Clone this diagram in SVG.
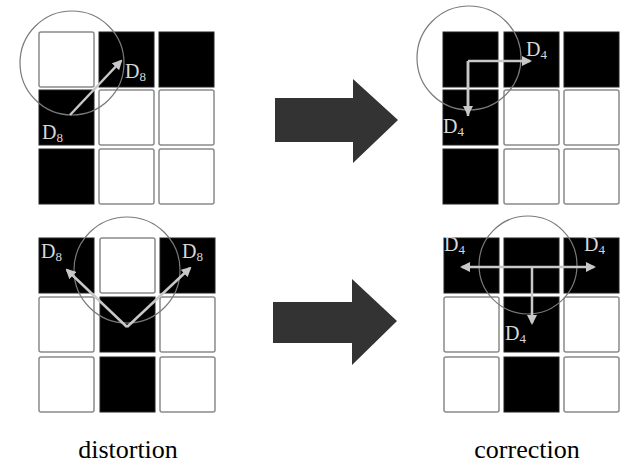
<svg xmlns="http://www.w3.org/2000/svg" width="624" height="463" viewBox="0 0 624 463">
<style>
.w{fill:#fff;stroke:#8a8a8a;stroke-width:1.5}
.b{fill:#000;stroke:#222;stroke-width:1}
.c{fill:none;stroke:#7a7a7a;stroke-width:1.2}
.a{fill:none;stroke:#c8c8c8;stroke-width:2.5;marker-end:url(#h)}
.l{fill:none;stroke:#c8c8c8;stroke-width:2.5}
.lbl{font-family:"Liberation Serif",serif;font-size:20px;fill:#d8d8d8}
.sub{font-size:13px}
.cap{font-family:"Liberation Serif",serif;font-size:26px;fill:#000;text-anchor:middle}
.big{fill:#333}
</style>
<defs>
<marker id="h" viewBox="0 0 10 10" refX="8" refY="5" markerWidth="4" markerHeight="4" orient="auto" markerUnits="strokeWidth">
<path d="M0,0 L10,5 L0,10 z" fill="#c8c8c8"/>
</marker>
</defs>
<rect width="624" height="463" fill="#fff"/>

<g id="grid-tl">
<rect class="w" x="39" y="32" width="55" height="55" rx="2"/>
<rect class="b" x="99" y="32" width="55" height="55"/>
<rect class="b" x="159" y="32" width="55" height="55"/>
<rect class="b" x="39" y="90" width="55" height="55"/>
<rect class="w" x="99" y="90" width="55" height="55" rx="2"/>
<rect class="w" x="159" y="90" width="55" height="55" rx="2"/>
<rect class="b" x="39" y="149" width="55" height="55"/>
<rect class="w" x="99" y="149" width="55" height="55" rx="2"/>
<rect class="w" x="159" y="149" width="55" height="55" rx="2"/>
<circle class="c" cx="72" cy="63" r="52"/>
<text class="lbl" x="125" y="78">D<tspan class="sub" dy="3">8</tspan></text>
<text class="lbl" x="42" y="139">D<tspan class="sub" dy="3">8</tspan></text>
</g>

<g id="grid-tr">
<rect class="b" x="443" y="32" width="55" height="55"/>
<rect class="b" x="504" y="32" width="55" height="55"/>
<rect class="b" x="564" y="32" width="55" height="55"/>
<rect class="b" x="443" y="90" width="55" height="55"/>
<rect class="w" x="504" y="90" width="55" height="55" rx="2"/>
<rect class="w" x="564" y="90" width="55" height="55" rx="2"/>
<rect class="b" x="443" y="149" width="55" height="55"/>
<rect class="w" x="504" y="149" width="55" height="55" rx="2"/>
<rect class="w" x="564" y="149" width="55" height="55" rx="2"/>
<circle class="c" cx="469" cy="58" r="52"/>
<text class="lbl" x="526" y="56">D<tspan class="sub" dy="3">4</tspan></text>
<text class="lbl" x="443" y="133">D<tspan class="sub" dy="3">4</tspan></text>
</g>

<g id="grid-bl">
<rect class="b" x="39" y="238" width="55" height="55"/>
<rect class="w" x="100" y="238" width="55" height="55" rx="2"/>
<rect class="b" x="160" y="238" width="55" height="55"/>
<rect class="w" x="39" y="297" width="55" height="55" rx="2"/>
<rect class="b" x="100" y="297" width="55" height="55"/>
<rect class="w" x="160" y="297" width="55" height="55" rx="2"/>
<rect class="w" x="39" y="357" width="55" height="55" rx="2"/>
<rect class="b" x="100" y="357" width="55" height="55"/>
<rect class="w" x="160" y="357" width="55" height="55" rx="2"/>
<circle class="c" cx="127" cy="270" r="53"/>
<text class="lbl" x="41" y="258">D<tspan class="sub" dy="3">8</tspan></text>
<text class="lbl" x="182" y="258">D<tspan class="sub" dy="3">8</tspan></text>
</g>

<g id="grid-br">
<rect class="b" x="444" y="238" width="55" height="55"/>
<rect class="b" x="504" y="238" width="55" height="55"/>
<rect class="b" x="564" y="238" width="55" height="55"/>
<rect class="w" x="444" y="297" width="55" height="55" rx="2"/>
<rect class="b" x="504" y="297" width="55" height="55"/>
<rect class="w" x="564" y="297" width="55" height="55" rx="2"/>
<rect class="w" x="444" y="357" width="55" height="55" rx="2"/>
<rect class="b" x="504" y="357" width="55" height="55"/>
<rect class="w" x="564" y="357" width="55" height="55" rx="2"/>
<circle class="c" cx="528" cy="265" r="49"/>
<text class="lbl" x="444" y="251">D<tspan class="sub" dy="3">4</tspan></text>
<text class="lbl" x="584" y="251">D<tspan class="sub" dy="3">4</tspan></text>
<text class="lbl" x="505" y="340">D<tspan class="sub" dy="3">4</tspan></text>
</g>

<g id="connectors">
<path class="a" d="M70,115 L121,61"/>
<path class="l" d="M468,116 L468,61"/>
<path class="a" d="M468,61 L530,61"/>
<path class="a" d="M468,61 L468,114"/>
<path class="a" d="M127,327 L67,270"/>
<path class="a" d="M127,327 L190,268"/>
<path class="a" d="M528,267 L462,267"/>
<path class="a" d="M528,267 L594,267"/>
<path class="a" d="M532,267 L532,323"/>
<path class="big" d="M275,98 L353,98 L353,79 L398,120 L353,163 L353,142 L275,142 z"/>
<path class="big" d="M273,302 L352,302 L352,279 L397,321 L352,365 L352,343 L273,343 z"/>
</g>

<text class="cap" x="128" y="458">distortion</text>
<text class="cap" x="527" y="458">correction</text>
</svg>
